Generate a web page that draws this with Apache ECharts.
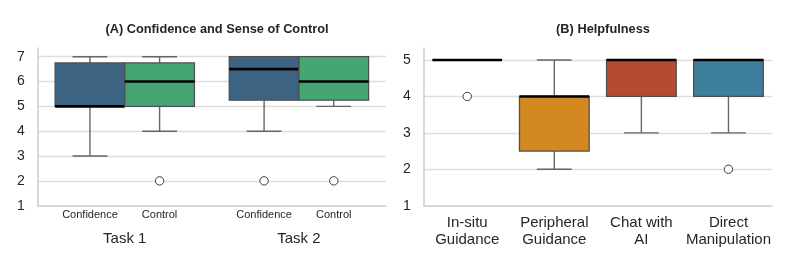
<!DOCTYPE html>
<html>
<head>
<meta charset="utf-8">
<script src="https://cdn.jsdelivr.net/npm/echarts@6/dist/echarts.min.js"></script>
<style>
  html, body { margin: 0; padding: 0; background: #fff; }
  #chart { width: 797px; height: 266px; }
</style>
</head>
<body>
<div id="chart"></div>
<script>
// (A) confidence / control per task
const taskCats = ['Task 1', 'Task 2']
const hueNames = ['Confidence', 'Control']
// [whiskerLow, q1, median, q3, whiskerHigh] per task
const confidenceStats = [[3, 5, 5, 6.75, 7], [4, 5.25, 6.5, 7, 7]]
const controlStats = [[4, 5, 6, 6.75, 7], [5, 5.25, 6, 7, 7]]
// [taskIndex, value]
const confidenceOutliers = [[1, 2]]
const controlOutliers = [[0, 2], [1, 2]]
const ticksA = [1, 2, 3, 4, 5, 6, 7]

// (B) helpfulness
const helpCats = ['In-situ\nGuidance', 'Peripheral\nGuidance', 'Chat with\nAI', 'Direct\nManipulation']
const helpStats = [[5, 5, 5, 5, 5], [2, 2.5, 4, 4, 5], [3, 4, 5, 5, 5], [3, 4, 5, 5, 5]]
const helpOutliers = [[0, 4], [3, 2]]
const ticksB = [1, 2, 3, 4, 5]

const hueColors = ['#3c6482', '#45a674']
const helpColors = ['#3a8f5c', '#d48920', '#b44c33', '#3e7e9d']

const FONT = '"Liberation Sans", Arial, sans-serif'
const TXT = '#262626'
const EDGE = '#4f4f4f'
const WHISK = '#666666'

// box + whiskers drawn through the axis scales
const boxRenderer = (offset, widthFrac, colorOf) => (params, api) => {
  const i = api.value(0)
  const band = api.size([1, 0])[0]
  const w = band * widthFrac
  const cx = api.coord([i, 1])[0] + offset * band
  const y = k => api.coord([i, api.value(k)])[1]
  const lo = y(1), q1 = y(2), md = y(3), q3 = y(4), hi = y(5)
  const x0 = cx - w / 2
  const cap = w / 4
  const ln = (x1, y1, x2, y2, stroke, lineWidth) => ({
    type: 'line', shape: { x1, y1, x2, y2 }, style: { stroke, lineWidth }
  })
  return {
    type: 'group',
    children: [
      ln(cx, q1, cx, lo, WHISK, 1.4),
      ln(cx, q3, cx, hi, WHISK, 1.4),
      ln(cx - cap, lo, cx + cap, lo, WHISK, 1.4),
      ln(cx - cap, hi, cx + cap, hi, WHISK, 1.4),
      {
        type: 'rect',
        shape: { x: x0, y: q3, width: w, height: q1 - q3 },
        style: { fill: colorOf(params.dataIndex), stroke: EDGE, lineWidth: 1.3 }
      },
      ln(x0, md, x0 + w, md, '#000', 2.6)
    ]
  }
}

const outlierRenderer = offset => (params, api) => {
  const band = api.size([1, 0])[0]
  const p = api.coord([api.value(0), api.value(1)])
  return {
    type: 'circle',
    shape: { cx: p[0] + offset * band, cy: p[1], r: 4.2 },
    style: { fill: '#fff', stroke: '#3a3a3a', lineWidth: 1 }
  }
}

const toBoxData = stats => stats.map((s, i) => [i, ...s])

const valueAxis = (gridIndex, max, ticks) => ({
  type: 'value',
  gridIndex,
  min: 1,
  max,
  interval: 1,
  axisLine: { show: true, lineStyle: { color: '#cccccc', width: 1.5 } },
  axisTick: { show: false },
  axisLabel: {
    fontSize: 14, color: TXT, fontFamily: FONT, margin: 13,
    showMaxLabel: false,
    formatter: v => (ticks.includes(v) ? String(v) : '')
  },
  splitLine: { show: true, showMinLine: false, showMaxLine: false, lineStyle: { color: '#dddddd', width: 1.3 } }
})

const chart = echarts.init(document.getElementById('chart'))

chart.setOption({
  animation: false,
  textStyle: { fontFamily: FONT },
  title: [
    {
      text: '(A) Confidence and Sense of Control',
      left: 212, top: 18, textAlign: 'center',
      textStyle: { fontSize: 12.8, fontWeight: 'bold', color: TXT, fontFamily: FONT }
    },
    {
      text: '(B) Helpfulness',
      left: 598, top: 18, textAlign: 'center',
      textStyle: { fontSize: 12.8, fontWeight: 'bold', color: TXT, fontFamily: FONT }
    }
  ],
  grid: [
    { left: 37.7, right: 411, top: 48, bottom: 60.3 },
    { left: 423.7, right: 25, top: 48, bottom: 60.3 }
  ],
  xAxis: [
    {
      type: 'category',
      gridIndex: 0,
      data: taskCats,
      axisLine: { show: true, lineStyle: { color: '#cccccc', width: 1.5 } },
      axisTick: { show: false },
      splitLine: { show: false },
      axisLabel: {
        interval: 0,
        margin: 1,
        formatter: v => `{h|${hueNames[0]}}{h|${hueNames[1]}}\n{t|${v}}`,
        rich: {
          h: { width: 69.6, align: 'center', fontSize: 11, lineHeight: 16, color: TXT, fontFamily: FONT },
          t: { align: 'center', fontSize: 15, lineHeight: 32, color: TXT, fontFamily: FONT }
        }
      }
    },
    {
      type: 'category',
      gridIndex: 1,
      data: helpCats,
      axisLine: { show: true, lineStyle: { color: '#cccccc', width: 1.5 } },
      axisTick: { show: false },
      splitLine: { show: false },
      axisLabel: {
        interval: 0, margin: 9, fontSize: 15, lineHeight: 16.5, color: TXT, fontFamily: FONT
      }
    }
  ],
  yAxis: [valueAxis(0, 7.35, ticksA), valueAxis(1, 5.33, ticksB)],
  series: [
    {
      name: hueNames[0], type: 'custom', xAxisIndex: 0, yAxisIndex: 0,
      renderItem: boxRenderer(-0.2, 0.4, () => hueColors[0]),
      encode: { x: 0, y: [1, 2, 3, 4, 5] },
      data: toBoxData(confidenceStats)
    },
    {
      name: hueNames[1], type: 'custom', xAxisIndex: 0, yAxisIndex: 0,
      renderItem: boxRenderer(0.2, 0.4, () => hueColors[1]),
      encode: { x: 0, y: [1, 2, 3, 4, 5] },
      data: toBoxData(controlStats)
    },
    {
      type: 'custom', xAxisIndex: 0, yAxisIndex: 0,
      renderItem: outlierRenderer(-0.2),
      encode: { x: 0, y: 1 },
      data: confidenceOutliers
    },
    {
      type: 'custom', xAxisIndex: 0, yAxisIndex: 0,
      renderItem: outlierRenderer(0.2),
      encode: { x: 0, y: 1 },
      data: controlOutliers
    },
    {
      name: 'Helpfulness', type: 'custom', xAxisIndex: 1, yAxisIndex: 1,
      renderItem: boxRenderer(0, 0.8, i => helpColors[i]),
      encode: { x: 0, y: [1, 2, 3, 4, 5] },
      data: toBoxData(helpStats)
    },
    {
      type: 'custom', xAxisIndex: 1, yAxisIndex: 1,
      renderItem: outlierRenderer(0),
      encode: { x: 0, y: 1 },
      data: helpOutliers
    }
  ]
})
</script>
</body>
</html>
